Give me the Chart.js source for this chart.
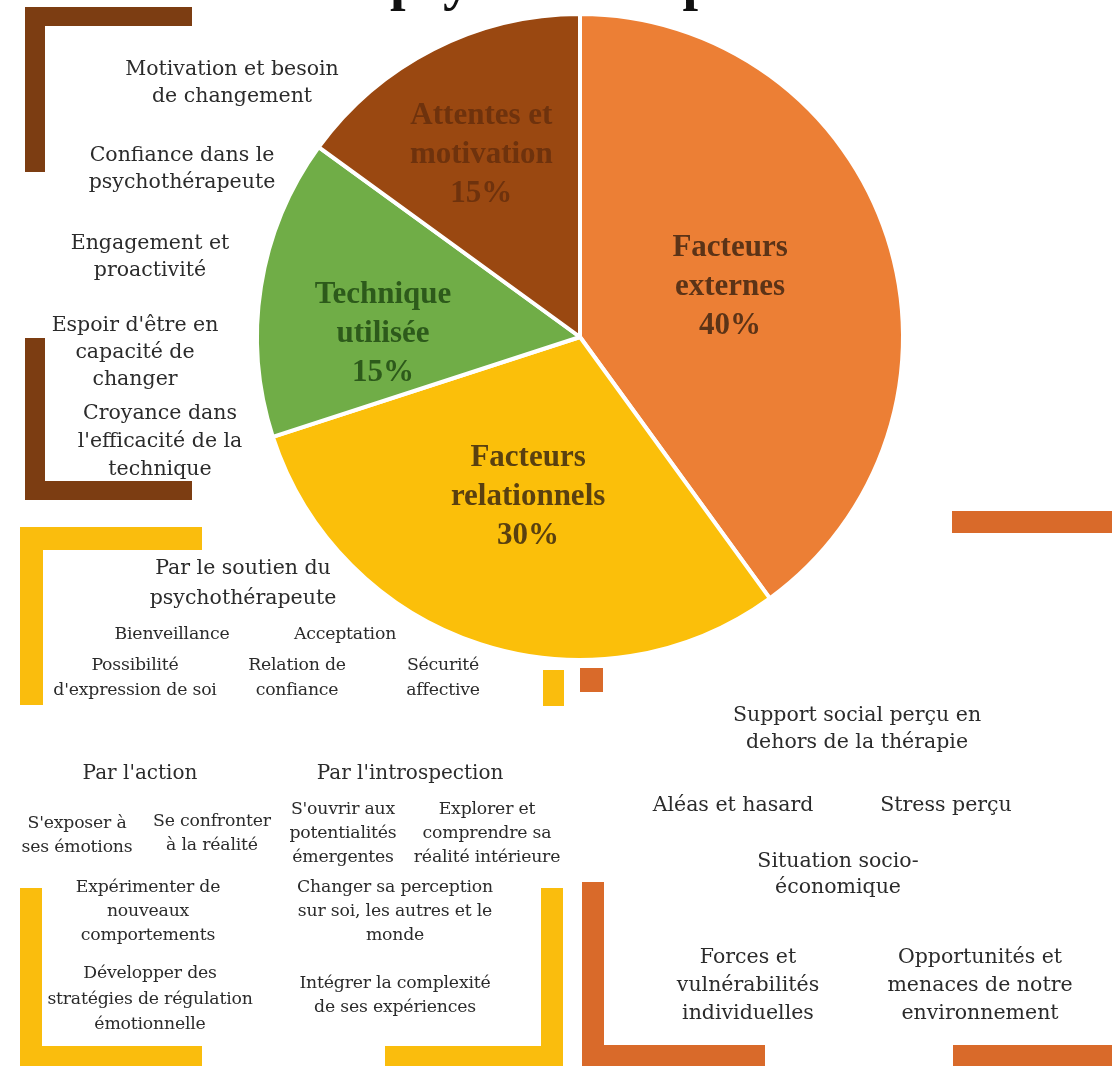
<!DOCTYPE html>
<html lang="fr">
<head>
    <meta charset="UTF-8">
    <title>Facteurs d'efficacité en psychothérapie</title>
    <script src="https://cdn.jsdelivr.net/npm/chart.js"></script>
    <style>
        body {
            margin: 0;
            background: #fff;
        }
        .page {
            position: relative;
            width: 1112px;
            height: 1066px;
            overflow: hidden;
            font-family: "DejaVu Serif", serif;
            color: #2b2b2b;
        }
        #pie {
            position: absolute;
            left: 0;
            top: 0;
        }
        .bar {
            position: absolute;
        }
        .brown { background: #7c3d12; }
        .yellow { background: #fabd0d; }
        .orange { background: #d96a2a; }
        .t {
            position: absolute;
            transform: translateX(-50%);
            text-align: center;
            white-space: nowrap;
            font-size: 20.5px;
            line-height: 27px;
        }
        .s { font-size: 17.3px; line-height: 24px; letter-spacing: -0.2px; }
        .m { font-size: 20px; line-height: 25px; }
    </style>
</head>
<body>
<div class="page">
    <canvas id="pie" width="1112" height="1066"></canvas>

    <!-- brackets -->
    <div class="bar brown" style="left:25px; top:7px; width:167px; height:19px"></div>
    <div class="bar brown" style="left:25px; top:7px; width:20px; height:165px"></div>
    <div class="bar brown" style="left:25px; top:338px; width:20px; height:162px"></div>
    <div class="bar brown" style="left:25px; top:481px; width:167px; height:19px"></div>

    <div class="bar yellow" style="left:20px; top:527px; width:182px; height:23px"></div>
    <div class="bar yellow" style="left:20px; top:527px; width:23px; height:178px"></div>
    <div class="bar yellow" style="left:543px; top:670px; width:21px; height:36px"></div>
    <div class="bar yellow" style="left:20px; top:888px; width:22px; height:178px"></div>
    <div class="bar yellow" style="left:20px; top:1046px; width:182px; height:20px"></div>
    <div class="bar yellow" style="left:541px; top:888px; width:22px; height:178px"></div>
    <div class="bar yellow" style="left:385px; top:1046px; width:178px; height:20px"></div>

    <div class="bar orange" style="left:580px; top:668px; width:23px; height:24px"></div>
    <div class="bar orange" style="left:952px; top:511px; width:160px; height:22px"></div>
    <div class="bar orange" style="left:582px; top:882px; width:22px; height:184px"></div>
    <div class="bar orange" style="left:582px; top:1045px; width:183px; height:21px"></div>
    <div class="bar orange" style="left:953px; top:1045px; width:159px; height:21px"></div>

    <!-- attentes et motivation -->
    <div class="t" style="left:232px; top:55px">Motivation et besoin<br>de changement</div>
    <div class="t" style="left:182px; top:141px">Confiance dans le<br>psychothérapeute</div>
    <div class="t" style="left:150px; top:229px">Engagement et<br>proactivité</div>
    <div class="t" style="left:135px; top:311px">Espoir d'être en<br>capacité de<br>changer</div>
    <div class="t" style="left:160px; top:398px; line-height:28px">Croyance dans<br>l'efficacité de la<br>technique</div>

    <!-- facteurs relationnels -->
    <div class="t" style="left:243px; top:552px; line-height:30px">Par le soutien du<br>psychothérapeute</div>
    <div class="t s" style="left:172px; top:621px">Bienveillance</div>
    <div class="t s" style="left:345px; top:621px">Acceptation</div>
    <div class="t s" style="left:135px; top:652px; line-height:25px">Possibilité<br>d'expression de soi</div>
    <div class="t s" style="left:297px; top:652px; line-height:25px">Relation de<br>confiance</div>
    <div class="t s" style="left:443px; top:652px; line-height:25px">Sécurité<br>affective</div>

    <div class="t m" style="left:140px; top:760px">Par l'action</div>
    <div class="t m" style="left:410px; top:760px">Par l'introspection</div>
    <div class="t s" style="left:77px; top:810px">S'exposer à<br>ses émotions</div>
    <div class="t s" style="left:212px; top:808px">Se confronter<br>à la réalité</div>
    <div class="t s" style="left:343px; top:796px">S'ouvrir aux<br>potentialités<br>émergentes</div>
    <div class="t s" style="left:487px; top:796px">Explorer et<br>comprendre sa<br>réalité intérieure</div>
    <div class="t s" style="left:148px; top:874px">Expérimenter de<br>nouveaux<br>comportements</div>
    <div class="t s" style="left:395px; top:874px">Changer sa perception<br>sur soi, les autres et le<br>monde</div>
    <div class="t s" style="left:150px; top:960px; line-height:25.5px">Développer des<br>stratégies de régulation<br>émotionnelle</div>
    <div class="t s" style="left:395px; top:970px">Intégrer la complexité<br>de ses expériences</div>

    <!-- facteurs externes -->
    <div class="t" style="left:857px; top:701px">Support social perçu en<br>dehors de la thérapie</div>
    <div class="t" style="left:733px; top:791px">Aléas et hasard</div>
    <div class="t" style="left:946px; top:791px">Stress perçu</div>
    <div class="t" style="left:838px; top:847px; line-height:26px">Situation socio-<br>économique</div>
    <div class="t" style="left:748px; top:942px; line-height:28px">Forces et<br>vulnérabilités<br>individuelles</div>
    <div class="t" style="left:980px; top:942px; line-height:28px">Opportunités et<br>menaces de notre<br>environnement</div>
</div>

<script>
    // part of each factor in the outcome of therapy (%)
    const factors = ['Facteurs\nexternes', 'Facteurs\nrelationnels', 'Technique\nutilisée', 'Attentes et\nmotivation'];
    const shares = [40, 30, 15, 15];
    const sliceColors = ['#ec7f35', '#fbbf0a', '#70ad47', '#9a4811'];
    const labelColors = ['#5b3317', '#594010', '#2d5a1b', '#6e320d'];

    // where each label sits: fraction of the radius, and a small turn in degrees
    const labelRadius = [0.49, 0.52, 0.61, 0.64];
    const labelTurn = [-0.5, 0, -8, -1.5];

    const sliceLabels = {
        id: 'sliceLabels',
        afterDatasetsDraw(chart) {
            const ctx = chart.ctx;
            const arcs = chart.getDatasetMeta(0).data;
            ctx.save();
            ctx.font = 'bold 31px "Liberation Serif", serif';
            ctx.textAlign = 'center';
            ctx.textBaseline = 'middle';
            arcs.forEach((arc, i) => {
                const mid = (arc.startAngle + arc.endAngle) / 2 + labelTurn[i] * Math.PI / 180;
                const r = arc.outerRadius * labelRadius[i];
                const x = arc.x + Math.cos(mid) * r;
                const y = arc.y + Math.sin(mid) * r;
                const lines = factors[i].split('\n').concat(shares[i] + '%');
                ctx.fillStyle = labelColors[i];
                lines.forEach((line, k) => {
                    ctx.fillText(line, x, y + (k - 1) * 39);
                });
            });
            ctx.restore();
        }
    };

    // heading, mostly above the visible area
    const heading = {
        id: 'heading',
        beforeDraw(chart) {
            const ctx = chart.ctx;
            ctx.save();
            ctx.font = 'bold 56px "Liberation Serif", serif';
            ctx.fillStyle = '#111';
            ctx.textAlign = 'left';
            ctx.textBaseline = 'alphabetic';
            ctx.fillText('psychothérapie', 390, -1);
            ctx.restore();
        }
    };

    new Chart(document.getElementById('pie'), {
        type: 'pie',
        data: {
            labels: factors.map(f => f.replace('\n', ' ')),
            datasets: [{
                data: shares,
                backgroundColor: sliceColors,
                borderColor: '#ffffff',
                borderWidth: 4,
                hoverOffset: 0
            }]
        },
        options: {
            responsive: false,
            animation: false,
            layout: {
                padding: { left: 255, right: 207, top: 12, bottom: 404 }
            },
            plugins: {
                legend: { display: false },
                tooltip: { enabled: false }
            }
        },
        plugins: [heading, sliceLabels]
    });
</script>
</body>
</html>
